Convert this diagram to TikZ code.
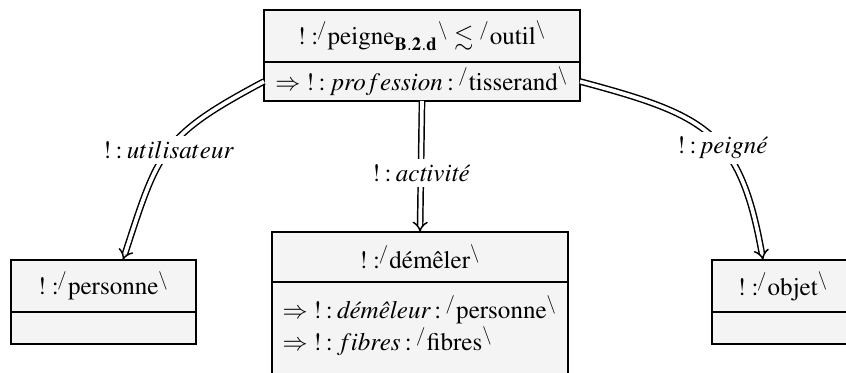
\documentclass[tikz,border=0pt]{standalone}
\usepackage[T1]{fontenc}
\usepackage{amsmath}
\usepackage{amssymb}
\usepackage{mathptmx}
\usepackage{tikz}
\usetikzlibrary{
  arrows.meta,
  positioning,
  calc
}
\definecolor{clsFill}{HTML}{F4F4F4}
\definecolor{clsLine}{HTML}{000000}
\newcommand{\cl}{\mathrel{\mkern-1mu:\mkern-1mu}}
\newcommand{\tpe}[1]{{}^{/}\mathrm{#1}^{\backslash}}
\newcommand{\inst}[1]{!\mathrel{:}\mkern-5mu\tpe{#1}}
\tikzset{
  clsnode/.style={
    draw=clsLine, fill=clsFill, line width=0.7pt, inner sep=0pt, outer sep=0pt,
    font=\fontsize{9.4pt}{11pt}\selectfont, align=center
  },
  clstitle/.style={clsnode, minimum height=19.5pt},
  clsbody/.style={clsnode, minimum height=12pt},
  isa/.style={-{Implies}, double, double distance=1.4pt, line width=0.55pt},
  rolelabel/.style={fill=white, inner sep=2pt, font=\fontsize{9.4pt}{11pt}\selectfont}
}

\begin{document}
\begin{tikzpicture}[x=0.375pt, y=-0.375pt]
  \useasboundingbox (0,0) rectangle (846,372);
  % top class
  \node[clstitle, minimum width=118.5pt] (peigne) at (422,36)
    {$!\mathrel{:}\mkern-5mu{}^{/}\mathrm{peigne}_{\mathbf{B.2.d}}{}^{\backslash}\lesssim\tpe{outil}$};
  \node[clsbody, minimum width=118.5pt, minimum height=14.6pt, below=0pt of peigne] (peigneattr)
    {$\Rightarrow\;!\cl profession\cl\tpe{tisserand}$};
  % middle class
  \node[clstitle, minimum width=111pt, minimum height=18.75pt] (demeler) at (420,257)
    {$\inst{d\acute{e}m\hat{e}ler}$};
  \node[clsbody, align=left, minimum width=111pt, minimum height=34.5pt, below=0pt of demeler] (demelerattr)
    {$\Rightarrow\;!\cl\text{\itshape d\'em\^eleur}\cl\tpe{personne}$\\[1pt]
     $\Rightarrow\;!\cl fibres\cl\tpe{fibres}$\rule[-4pt]{0pt}{4pt}};
  % left class
  \node[clstitle, minimum width=69.4pt] (personne) at (103.5,286)
    {$\inst{personne}$};
  \node[clsbody, minimum width=69.4pt, below=0pt of personne] (personneattr) {};
  % right class
  \node[clstitle, minimum width=53.25pt] (objet) at (783,286)
    {$\inst{objet}$};
  \node[clsbody, minimum width=53.25pt, below=0pt of objet] (objetattr) {};
  % roles
  \draw[isa] (peigneattr.west) to[out=208, in=72, looseness=1.3]
    node[rolelabel, pos=0.5] {$!\cl utilisateur$} ([xshift=7.3pt]personne.north);
  \draw[isa] (peigneattr.south) --
    node[rolelabel, pos=0.55] {$!\cl\text{\itshape activit\'e}$} (demeler.north);
  \draw[isa] (peigneattr.east) to[out=-15, in=100, looseness=1.3]
    node[rolelabel, pos=0.58] {$!\cl\text{\itshape peign\'e}$} ([xshift=-7.5pt]objet.north);
\end{tikzpicture}
\end{document}
